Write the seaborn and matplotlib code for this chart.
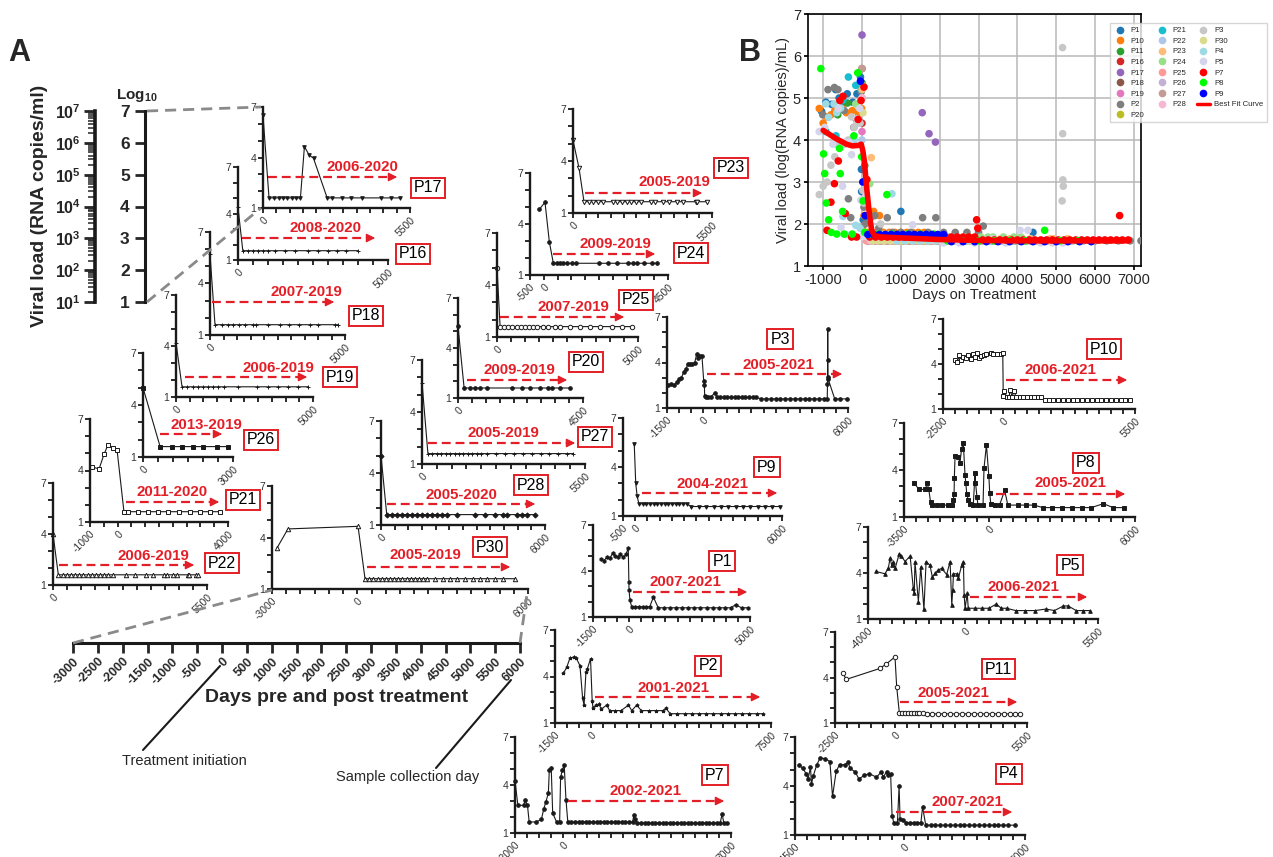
import numpy as np
import pandas as pd
import matplotlib
matplotlib.use("Agg")
import matplotlib.pyplot as plt
import seaborn as sns
from matplotlib.lines import Line2D
from matplotlib.patches import FancyArrowPatch
from matplotlib.ticker import FixedLocator, LogLocator, NullFormatter

sns.set_theme(style="white")
plt.rcParams['font.family'] = ['Liberation Sans', 'DejaVu Sans']
plt.rcParams['mathtext.fontset'] = 'custom'
plt.rcParams['mathtext.rm'] = 'Liberation Sans'
plt.rcParams['mathtext.bf'] = 'Liberation Sans:bold'
plt.rcParams['mathtext.it'] = 'Liberation Sans:italic'
plt.rcParams['axes.unicode_minus'] = False

# ---------------- data (days on treatment, log10 viral load) ----------------
P17_days = [0, 225, 400, 590, 750, 910, 1075, 1240, 1400, 1550, 1725, 1890, 2400, 2600, 2960, 3310, 3690, 4410, 4775, 5140]
P17_vl = [6.5, 1.6, 1.6, 1.6, 1.6, 1.6, 1.6, 1.6, 1.6, 4.65, 4.15, 3.95, 1.6, 1.6, 1.6, 1.6, 1.6, 1.6, 1.6, 1.6]
P16_days = [0, 160, 340, 500, 670, 840, 1000, 1230, 1570, 1900, 2340, 2650, 3000, 3300, 3600, 4000]
P16_vl = [4.4, 1.6, 1.6, 1.6, 1.6, 1.6, 1.6, 1.6, 1.6, 1.6, 1.6, 1.6, 1.6, 1.6, 1.6, 1.6]
P18_days = [0, 185, 440, 660, 850, 1070, 1300, 1590, 1700, 2150, 2590, 2930, 3300, 3700, 4000, 4630, 4740]
P18_vl = [5.7, 1.6, 1.6, 1.6, 1.6, 1.6, 1.6, 1.6, 1.6, 1.6, 1.6, 1.6, 1.6, 1.6, 1.6, 1.6, 1.6]
P19_days = [0, 220, 400, 620, 800, 990, 1170, 1350, 1530, 1750, 2260, 2960, 3360, 3720, 4090, 4450, 4820]
P19_vl = [4.2, 1.6, 1.6, 1.6, 1.6, 1.6, 1.6, 1.6, 1.6, 1.6, 1.6, 1.6, 1.6, 1.6, 1.6, 1.6, 1.6]
P26_days = [0, 570, 970, 1300, 1670, 2000, 2470, 2830]
P26_vl = [5.0, 1.6, 1.6, 1.6, 1.6, 1.6, 1.6, 1.6]
P21_days = [-930, -670, -490, -350, -160, -20, 230, 380, 740, 1100, 1460, 1830, 2220, 2620, 2990, 3350, 3710]
P21_vl = [4.2, 4.1, 4.95, 5.5, 5.3, 5.2, 1.6, 1.6, 1.6, 1.6, 1.6, 1.6, 1.6, 1.6, 1.6, 1.6, 1.6]
P22_days = [0, 190, 345, 490, 630, 790, 940, 1080, 1240, 1380, 1540, 1680, 1820, 1970, 2130, 2600, 2930, 3320, 3580, 3970, 4060, 4300, 4420, 4810, 4870, 5110, 5190]
P22_vl = [4.0, 1.6, 1.6, 1.6, 1.6, 1.6, 1.6, 1.6, 1.6, 1.6, 1.6, 1.6, 1.6, 1.6, 1.6, 1.6, 1.6, 1.6, 1.6, 1.6, 1.6, 1.6, 1.6, 1.6, 1.6, 1.6, 1.6]
P30_days = [-2820, -2440, 25, 270, 420, 560, 720, 850, 1010, 1150, 1300, 1440, 1580, 1730, 1890, 2020, 2180, 2320, 2460, 2730, 3000, 3260, 3510, 3780, 4060, 4310, 4570, 4840, 5130, 5540]
P30_vl = [3.4, 4.5, 4.65, 1.6, 1.6, 1.6, 1.6, 1.6, 1.6, 1.6, 1.6, 1.6, 1.6, 1.6, 1.6, 1.6, 1.6, 1.6, 1.6, 1.6, 1.6, 1.6, 1.6, 1.6, 1.6, 1.6, 1.6, 1.6, 1.6, 1.6]
P28_days = [0, 210, 390, 570, 760, 940, 1120, 1310, 1490, 1670, 1850, 2040, 2220, 2400, 2770, 3440, 3800, 4170, 4480, 4600, 4970, 5150, 5330, 5640]
P28_vl = [5.0, 1.6, 1.6, 1.6, 1.6, 1.6, 1.6, 1.6, 1.6, 1.6, 1.6, 1.6, 1.6, 1.6, 1.6, 1.6, 1.6, 1.6, 1.6, 1.6, 1.6, 1.6, 1.6, 1.6]
P27_days = [0, 200, 350, 500, 650, 800, 950, 1100, 1250, 1400, 1550, 1700, 1850, 2000, 2200, 2500, 2800, 3100, 3400, 3700, 4000, 4300, 4600, 4900, 5100]
P27_vl = [5.7, 1.6, 1.6, 1.6, 1.6, 1.6, 1.6, 1.6, 1.6, 1.6, 1.6, 1.6, 1.6, 1.6, 1.6, 1.6, 1.6, 1.6, 1.6, 1.6, 1.6, 1.6, 1.6, 1.6, 1.6]
P20_days = [0, 220, 430, 610, 790, 1030, 1930, 2290, 2590, 2950, 3250, 3370, 3670, 4030]
P20_vl = [5.3, 1.6, 1.6, 1.6, 1.6, 1.6, 1.6, 1.6, 1.6, 1.6, 1.6, 1.6, 1.6, 1.6]
P25_days = [0, 110, 250, 400, 540, 700, 840, 990, 1130, 1290, 1430, 1640, 1820, 2060, 2230, 2590, 2940, 3300, 3650, 4080, 4430, 4790]
P25_vl = [5.0, 1.6, 1.6, 1.6, 1.6, 1.6, 1.6, 1.6, 1.6, 1.6, 1.6, 1.6, 1.6, 1.6, 1.6, 1.6, 1.6, 1.6, 1.6, 1.6, 1.6, 1.6]
P24_days = [-163, 43, 200, 345, 467, 587, 707, 830, 1010, 1167, 2010, 2315, 2640, 3060, 3240, 3370, 3640, 3910, 4090]
P24_vl = [4.86, 5.28, 2.96, 1.69, 1.69, 1.69, 1.69, 1.69, 1.69, 1.69, 1.69, 1.69, 1.69, 1.69, 1.69, 1.69, 1.69, 1.69, 1.69]
P23_days = [0, 240, 435, 633, 803, 1000, 1200, 1570, 1750, 1930, 2120, 2300, 2490, 2690, 3070, 3240, 3570, 3810, 4130, 4340, 4850, 4920, 5290]
P23_vl = [5.2, 3.58, 1.65, 1.65, 1.65, 1.65, 1.65, 1.65, 1.65, 1.65, 1.65, 1.65, 1.65, 1.65, 1.65, 1.65, 1.65, 1.65, 1.65, 1.65, 1.65, 1.65, 1.65]
P3_days = [-1450, -1330, -1200, -1100, -1000, -900, -800, -700, -650, -550, -450, -350, -270, -200, -130,
           -50, 20, 50, 60, 120, 190, 330, 480, 560, 700, 850, 1000, 1150, 1300, 1450,
           1600, 1750, 1900, 2050, 2200, 2400, 2600, 2800, 3000, 3200, 3400, 3600, 3800, 4000, 4200,
           4400, 4600, 4800, 5000, 5140, 5150, 5160, 5165, 5170, 5180, 5450, 5650, 5950]
P3_vl = [2.5, 2.6, 2.5, 2.7, 2.9, 3.0, 3.4, 3.6, 3.9, 3.9, 3.9, 4.0, 4.55, 4.3, 4.4,
         4.4, 2.8, 2.5, 1.8, 1.7, 1.7, 1.75, 2.0, 1.75, 1.7, 1.7, 1.7, 1.7, 1.7, 1.7,
         1.7, 1.7, 1.7, 1.7, 1.7, 1.6, 1.6, 1.6, 1.6, 1.6, 1.6, 1.6, 1.6, 1.6, 1.6,
         1.6, 1.6, 1.6, 1.6, 1.6, 2.55, 6.2, 4.15, 3.05, 2.9, 1.6, 1.6, 1.6]
P10_days = [-2000, -1900, -1820, -1750, -1650, -1550, -1450, -1350, -1250, -1150, -1100, -1000, -900, -800, -700,
            -500, -400, -250, -100, -10, 10, 50, 150, 250, 300, 380, 450, 550, 700, 850,
            1000, 1150, 1300, 1450, 1600, 1750, 1900, 2100, 2300, 2500, 2700, 2900, 3100, 3300, 3500,
            3700, 3900, 4100, 4300, 4500, 4700, 4900, 5100, 5300]
P10_vl = [4.3, 4.15, 4.6, 4.25, 4.45, 4.4, 4.6, 4.35, 4.7, 4.5, 4.75, 4.4, 4.55, 4.6, 4.7,
          4.75, 4.65, 4.7, 4.65, 4.75, 1.9, 2.2, 1.8, 1.8, 2.3, 1.8, 2.2, 1.8, 1.8, 1.8,
          1.8, 1.8, 1.8, 1.8, 1.8, 1.6, 1.6, 1.6, 1.6, 1.6, 1.6, 1.6, 1.6, 1.6, 1.6,
          1.6, 1.6, 1.6, 1.6, 1.6, 1.6, 1.6, 1.6, 1.6]
P8_days = [-3090, -2890, -2620, -2550, -2480, -2410, -2350, -2150, -1940, -1670, -1510, -1470, -1440, -1430, -1400,
           -1260, -1200, -1130, -1060, -990, -960, -920, -860, -790, -650, -580, -560, -500, -460, -250,
           -210, -110, -10, 25, 70, 230, 430, 640, 770, 1170, 1500, 1850, 2200, 2600, 3000,
           3400, 3800, 4200, 4700, 5100, 5560]
P8_vl = [3.2, 2.76, 2.76, 3.15, 2.76, 1.97, 1.76, 1.76, 1.76, 1.76, 1.76, 2.1, 2.5, 3.46, 4.9,
         4.8, 4.45, 5.37, 5.7, 3.67, 3.2, 2.5, 2.1, 1.8, 1.76, 3.8, 3.2, 2.3, 1.76, 1.76,
         4.1, 5.6, 3.6, 2.55, 1.8, 1.76, 1.76, 2.7, 1.76, 1.76, 1.76, 1.76, 1.6, 1.6, 1.6,
         1.6, 1.6, 1.6, 1.85, 1.6, 1.6]
P5_days = [-3670, -3300, -3160, -3090, -3020, -2950, -2880, -2710, -2620, -2470, -2260, -2130, -2090, -2060, -1920,
           -1820, -1690, -1600, -1440, -1340, -1230, -1100, -960, -750, -610, -540, -500, -470, -330, -270,
           -130, -60, -30, 10, 100, 140, 400, 700, 1000, 1300, 1500, 1730, 2100, 2500, 2900,
           3350, 3700, 4070, 4270, 4600, 4900, 5170]
P5_vl = [4.1, 3.95, 4.3, 4.97, 4.5, 4.7, 4.3, 5.25, 5.1, 4.75, 5.1, 3.0, 2.7, 4.75, 2.13,
         4.4, 1.63, 4.75, 4.5, 3.72, 3.98, 4.2, 4.3, 3.9, 4.75, 1.92, 2.9, 3.95, 3.95, 3.65,
         4.5, 4.75, 2.57, 1.7, 2.67, 1.7, 1.7, 1.7, 1.7, 1.98, 1.7, 1.7, 1.55, 1.55, 1.55,
         1.65, 1.55, 1.85, 1.85, 1.55, 1.55, 1.55]
P11_days = [-2150, -2040, -625, -375, 0, 70, 180, 300, 420, 540, 660, 780, 900, 1020, 1150,
            1320, 1550, 1800, 2050, 2300, 2550, 2800, 3050, 3300, 3550, 3800, 4050, 4300, 4550, 4800, 5000, 5200]
P11_vl = [4.27, 3.87, 4.6, 4.88, 5.36, 3.39, 1.68, 1.68, 1.68, 1.68, 1.68, 1.68, 1.68, 1.68, 1.68,
          1.6, 1.6, 1.6, 1.6, 1.6, 1.6, 1.6, 1.6, 1.6, 1.6, 1.6, 1.6, 1.6, 1.6, 1.6, 1.6, 1.6]
P9_days = [-40, 20, 80, 150, 300, 450, 600, 750, 900, 1050, 1200, 1350, 1500, 1650, 1800,
           1950, 2100, 2300, 2600, 2900, 3200, 3500, 3800, 4100, 4400, 4700, 5000, 5300, 5600, 5900]
P9_vl = [5.4, 3.0, 2.2, 1.75, 1.75, 1.75, 1.75, 1.75, 1.75, 1.75, 1.75, 1.75, 1.75, 1.75, 1.75,
         1.75, 1.75, 1.58, 1.58, 1.58, 1.58, 1.58, 1.58, 1.58, 1.58, 1.58, 1.58, 1.58, 1.58, 1.58]
P1_days = [-1180, -1040, -930, -790, -680, -590, -480, -380, -240, -130, -40, -15, -10, 30, 100,
           250, 400, 550, 700, 850, 1000, 1200, 1450, 1700, 1950, 2200, 2450, 2700, 2950, 3200,
           3450, 3700, 3950, 4200, 4400, 4650, 4900]
P1_vl = [4.77, 4.68, 4.9, 4.85, 5.2, 5.0, 4.9, 5.1, 4.9, 5.1, 5.5, 3.3, 2.77, 2.1, 1.67,
         1.67, 1.67, 1.67, 1.67, 1.67, 2.3, 1.6, 1.6, 1.6, 1.6, 1.6, 1.6, 1.6, 1.6, 1.6,
         1.6, 1.6, 1.6, 1.6, 1.8, 1.6, 1.6]
P2_days = [-1150, -1010, -875, -710, -620, -460, -350, -290, -210, -150, -20, 50, 80, 220, 330,
           430, 650, 780, 1000, 1250, 1560, 1700, 1900, 2100, 2400, 2700, 3000, 3120, 3300, 3600,
           3900, 4200, 4500, 4800, 5100, 5400, 5700, 6000, 6300, 6600, 6900, 7180]
P2_vl = [4.2, 4.6, 5.2, 5.25, 5.2, 4.7, 2.6, 2.15, 4.3, 4.5, 5.15, 2.4, 2.0, 2.15, 2.2,
         1.9, 2.15, 1.8, 1.8, 1.8, 2.15, 1.8, 2.15, 1.8, 1.8, 1.8, 1.8, 1.95, 1.6, 1.6,
         1.6, 1.6, 1.6, 1.6, 1.6, 1.6, 1.6, 1.6, 1.6, 1.6, 1.6, 1.6]
P7_days = [-2000, -1880, -1630, -1590, -1480, -1410, -1120, -900, -800, -710, -610, -570, -490, -430, -270,
           -140, -100, -25, 50, 125, 200, 350, 500, 650, 800, 950, 1100, 1250, 1400, 1550,
           1700, 1850, 2000, 2150, 2300, 2450, 2600, 2750, 2900, 2950, 2980, 3100, 3250, 3400, 3550,
           3700, 3850, 4000, 4150, 4300, 4450, 4600, 4750, 4900, 5050, 5200, 5350, 5500, 5650, 5800,
           5950, 6100, 6250, 6400, 6550, 6630, 6700, 6850]
P7_vl = [4.27, 2.73, 2.73, 3.06, 2.73, 1.69, 1.69, 1.85, 2.52, 2.96, 3.5, 4.94, 5.04, 2.25, 1.69,
         1.69, 4.49, 4.94, 5.26, 3.06, 1.69, 1.69, 1.69, 1.69, 1.69, 1.69, 1.69, 1.69, 1.69, 1.69,
         1.69, 1.69, 1.69, 1.69, 1.69, 1.69, 1.69, 1.69, 1.69, 2.1, 1.9, 1.62, 1.62, 1.62, 1.62,
         1.62, 1.62, 1.62, 1.62, 1.62, 1.62, 1.62, 1.62, 1.62, 1.62, 1.62, 1.62, 1.62, 1.62, 1.62,
         1.62, 1.62, 1.62, 1.62, 1.62, 2.2, 1.62, 1.62]
P4_days = [-4330, -4180, -4040, -3960, -3860, -3820, -3750, -3600, -3460, -3250, -3060, -2950, -2800, -2660, -2440,
           -2300, -2230, -2010, -1860, -1640, -1430, -1140, -930, -860, -720, -650, -550, -490, -420, -270,
           -200, -160, -50, 90, 250, 400, 550, 700, 770, 900, 1100, 1300, 1500, 1700, 1900,
           2100, 2300, 2500, 2700, 2900, 3100, 3300, 3500, 3700, 3900, 4100, 4300, 4600]
P4_vl = [5.3, 5.08, 4.76, 4.43, 5.15, 4.12, 4.6, 5.3, 5.73, 5.67, 5.5, 3.36, 4.9, 5.3, 5.3,
         5.45, 5.08, 4.86, 4.43, 4.65, 4.76, 4.54, 4.86, 4.54, 4.86, 4.65, 4.76, 2.18, 1.75, 1.75,
         4.0, 1.97, 1.9, 1.75, 1.75, 1.75, 1.75, 1.75, 2.72, 1.6, 1.6, 1.6, 1.6, 1.6, 1.6,
         1.6, 1.6, 1.6, 1.6, 1.6, 1.6, 1.6, 1.6, 1.6, 1.6, 1.6, 1.6, 1.6]

BEST_FIT_days = [-1000, -700, -400, -250, -100, -20, 20, 60, 110, 160, 200, 250, 320, 500, 1000, 2000, 3000, 4000, 5000, 6000, 6800]
BEST_FIT_vl = [4.23, 4.05, 3.9, 3.86, 3.87, 3.9, 3.75, 3.5, 2.95, 2.5, 2.15, 1.85, 1.72, 1.69, 1.67, 1.63, 1.61, 1.6, 1.6, 1.6, 1.6]

DATE_RANGES = {'P17': '2006-2020', 'P16': '2008-2020', 'P18': '2007-2019', 'P19': '2006-2019', 'P26': '2013-2019',
               'P21': '2011-2020', 'P22': '2006-2019', 'P30': '2005-2019', 'P28': '2005-2020', 'P27': '2005-2019',
               'P20': '2009-2019', 'P25': '2007-2019', 'P24': '2009-2019', 'P23': '2005-2019', 'P3': '2005-2021',
               'P9': '2004-2021', 'P1': '2007-2021', 'P2': '2001-2021', 'P7': '2002-2021', 'P4': '2007-2021',
               'P11': '2005-2021', 'P5': '2006-2021', 'P8': '2005-2021', 'P10': '2006-2021'}

SERIES = {
    'P1': (P1_days, P1_vl), 'P2': (P2_days, P2_vl), 'P3': (P3_days, P3_vl), 'P4': (P4_days, P4_vl),
    'P5': (P5_days, P5_vl), 'P7': (P7_days, P7_vl), 'P8': (P8_days, P8_vl), 'P9': (P9_days, P9_vl),
    'P10': (P10_days, P10_vl), 'P11': (P11_days, P11_vl), 'P16': (P16_days, P16_vl), 'P17': (P17_days, P17_vl),
    'P18': (P18_days, P18_vl), 'P19': (P19_days, P19_vl), 'P20': (P20_days, P20_vl), 'P21': (P21_days, P21_vl),
    'P22': (P22_days, P22_vl), 'P23': (P23_days, P23_vl), 'P24': (P24_days, P24_vl), 'P25': (P25_days, P25_vl),
    'P26': (P26_days, P26_vl), 'P27': (P27_days, P27_vl), 'P28': (P28_days, P28_vl), 'P30': (P30_days, P30_vl),
}
for k, (d, v) in SERIES.items():
    assert len(d) == len(v), k

# ---------------- layout (pixel positions in the 1273x857 canvas) ----------------
# axes box (left, top, right, bottom), x-range, arrow (x0, x1, y), date text centre, label box centre
LAYOUT = {
    'P17': ((263, 107, 410, 208), (0, 5500), (268, 400, 177), (362, 167), (428, 188)),
    'P16': ((238, 167, 388, 260), (0, 5000), (242, 378, 238), (325, 228), (413, 254)),
    'P18': ((210, 232, 345, 335), (0, 5000), (212, 337, 302), (306, 292), (366, 316)),
    'P19': ((176, 295, 313, 397), (0, 5000), (185, 310, 377), (278, 368), (340, 377)),
    'P26': ((143, 353, 233, 457), (0, 3000), (160, 225, 434), (206, 425), (261, 440)),
    'P21': ((90, 419, 228, 522), (-1000, 4000), (126, 222, 502), (172, 492), (243, 500)),
    'P22': ((53, 483, 207, 585), (0, 5500), (59, 197, 565), (153, 556), (222, 563)),
    'P30': ((272, 486, 528, 589), (-3000, 6000), (367, 513, 567), (425, 555), (490, 547)),
    'P28': ((381, 421, 545, 525), (0, 6000), (387, 538, 504), (461, 495), (531, 485)),
    'P27': ((422, 360, 585, 464), (0, 5500), (428, 578, 443), (503, 433), (595, 437)),
    'P20': ((458, 298, 583, 398), (0, 4500), (467, 570, 380), (519, 370), (586, 362)),
    'P25': ((497, 233, 638, 337), (0, 5000), (500, 627, 317), (573, 307), (636, 300)),
    'P24': ((530, 173, 668, 275), (-500, 4500), (553, 658, 254), (615, 244), (691, 253)),
    'P23': ((573, 109, 712, 213), (0, 5500), (585, 705, 193), (674, 182), (731, 168)),
    'P3': ((667, 317, 848, 408), (-1500, 6000), (707, 845, 374), (778, 365), (780, 339)),
    'P9': ((623, 418, 782, 516), (-500, 6000), (642, 780, 493), (712, 484), (767, 467)),
    'P1': ((593, 525, 750, 617), (-1500, 5000), (633, 750, 592), (685, 582), (722, 561)),
    'P2': ((555, 630, 771, 723), (-1500, 7500), (595, 763, 697), (673, 688), (708, 666)),
    'P7': ((515, 737, 731, 833), (-2000, 7000), (568, 727, 801), (646, 791), (715, 775)),
    'P4': ((795, 737, 1025, 835), (-4500, 5000), (896, 1015, 812), (967, 802), (1009, 774)),
    'P11': ((835, 632, 1027, 723), (-2500, 5500), (900, 1020, 702), (953, 693), (998, 669)),
    'P5': ((868, 527, 1098, 619), (-4000, 5500), (970, 1090, 597), (1023, 587), (1070, 565)),
    'P8': ((904, 423, 1135, 517), (-3500, 6000), (996, 1128, 494), (1070, 483), (1086, 463)),
    'P10': ((943, 319, 1135, 409), (-2500, 5500), (1006, 1130, 380), (1060, 370), (1104, 349)),
}
MARKERS = {'P17': ('v', True), 'P16': ('+', True), 'P18': ('+', True), 'P19': ('+', True), 'P26': ('s', True),
           'P21': ('s', False), 'P22': ('^', False), 'P30': ('^', False), 'P28': ('D', True), 'P27': ('+', True),
           'P20': ('o', True), 'P25': ('o', False), 'P24': ('o', True), 'P23': ('v', False), 'P3': ('o', True),
           'P9': ('v', True), 'P1': ('h', True), 'P2': ('*', True), 'P11': ('o', False), 'P7': ('o', True),
           'P4': ('o', True), 'P5': ('^', True), 'P8': ('s', True), 'P10': ('s', False)}

COLORS = {'P1': '#1f77b4', 'P10': '#ff7f0e', 'P11': '#2ca02c', 'P16': '#d62728', 'P17': '#9467bd',
          'P18': '#8c564b', 'P19': '#e377c2', 'P2': '#7f7f7f', 'P20': '#bcbd22', 'P21': '#17becf',
          'P22': '#aec7e8', 'P23': '#ffbb78', 'P24': '#98df8a', 'P25': '#ff9896', 'P26': '#c5b0d5',
          'P27': '#c49c94', 'P28': '#f7b6d2', 'P3': '#c7c7c7', 'P30': '#dbdb8d', 'P4': '#9edae5',
          'P5': '#d4d4ec', 'P7': '#ff0000', 'P8': '#00ff00', 'P9': '#0000ff'}
ORDER = sorted(COLORS.keys())

RED = '#e41e26'
INK = '#1a1a1a'
W, H = 1273, 857
fig = plt.figure(figsize=(W / 100, H / 100), dpi=100)


def fx(x):
    return x / W


def fy(y):
    return 1 - y / H


def px_axes(x0, y0, x1, y1):
    ax = fig.add_axes([fx(x0), fy(y1), (x1 - x0) / W, (y1 - y0) / H])
    ax.set_facecolor('none')
    return ax


def add_line(x0, y0, x1, y1, **kw):
    fig.add_artist(Line2D([fx(x0), fx(x1)], [fy(y0), fy(y1)], transform=fig.transFigure, **kw))


def add_arrow(x0, x1, y):
    add_line(x0, y, x1 - 7, y, color=RED, lw=1.6, ls=(0, (4, 2.2)))
    fig.add_artist(FancyArrowPatch((fx(x1 - 9), fy(y)), (fx(x1), fy(y)), transform=fig.transFigure,
                                   arrowstyle='-|>', mutation_scale=13, color=RED, lw=1.0))


# ---------------- panel A mini plots ----------------
for name, (box, xr, arr, tpos, lpos) in LAYOUT.items():
    ax = px_axes(*box)
    days, vl = SERIES[name]
    mk, filled = MARKERS[name]
    ms = 2.6 if filled else 3.2
    sns.lineplot(x=days, y=vl, ax=ax, color=INK, lw=0.8, marker=mk, markersize=ms,
                 markerfacecolor=INK if filled else 'white', markeredgecolor=INK, markeredgewidth=0.7,
                 estimator=None, sort=False, clip_on=False)
    ax.set_xlim(*xr)
    ax.set_ylim(1, 7)
    for s in ['top', 'right']:
        ax.spines[s].set_visible(False)
    for s in ['left', 'bottom']:
        ax.spines[s].set_linewidth(1.7)
        ax.spines[s].set_color(INK)
    ax.set_yticks(range(1, 8))
    ax.set_yticklabels(['1', '', '', '4', '', '', '7'])
    xt = list(np.arange(xr[0], xr[1] + 1, 500))
    ax.set_xticks(xt)
    ax.set_xticklabels([str(int(t)) if t in (xr[0], 0, xr[1]) else '' for t in xt],
                       rotation=45, ha='right', rotation_mode='anchor')
    ax.tick_params(axis='both', direction='out', length=3.5, width=1.3, color=INK,
                   labelsize=7.5, labelcolor='#333333', pad=1.5, left=True, bottom=True)
    ax.set_xlabel('')
    ax.set_ylabel('')
    add_arrow(arr[0], arr[1], arr[2])
    fig.text(fx(tpos[0]), fy(tpos[1]), DATE_RANGES[name], color=RED, fontsize=10.8, fontweight='bold',
             ha='center', va='center')
    fig.text(fx(lpos[0]), fy(lpos[1]), name, color='black', fontsize=11.5, ha='center', va='center',
             bbox=dict(boxstyle='square,pad=0.18', fc='white', ec=RED, lw=1.4))

# ---------------- panel A reference axes ----------------
axv = px_axes(95, 111, 96, 302)
axv.set_yscale('log')
axv.set_ylim(10, 1e7)
axv.set_xticks([])
for s in ['top', 'right', 'bottom']:
    axv.spines[s].set_visible(False)
axv.spines['left'].set_linewidth(2.6)
axv.spines['left'].set_color(INK)
axv.yaxis.set_major_locator(FixedLocator([10.0 ** k for k in range(1, 8)]))
axv.set_yticklabels([r'$\mathbf{10^{%d}}$' % k for k in range(1, 8)])
axv.yaxis.set_minor_locator(LogLocator(base=10, subs=np.arange(2, 10), numticks=20))
axv.yaxis.set_minor_formatter(NullFormatter())
axv.tick_params(axis='y', which='major', direction='out', length=8, width=2, labelsize=11.5, pad=2, left=True)
axv.tick_params(axis='y', which='minor', direction='out', length=5, width=1.1, left=True)

axl = px_axes(145, 111, 146, 302)
axl.set_ylim(1, 7)
axl.set_xticks([])
for s in ['top', 'right', 'bottom']:
    axl.spines[s].set_visible(False)
axl.spines['left'].set_linewidth(2.2)
axl.spines['left'].set_color(INK)
axl.set_yticks(range(1, 8))
axl.set_yticklabels([str(k) for k in range(1, 8)], fontweight='bold')
axl.tick_params(axis='y', direction='out', length=7, width=2, labelsize=12.5, pad=4, left=True)
fig.text(fx(137), fy(95), r'$\mathbf{Log_{10}}$', fontsize=11, ha='center', va='center')
fig.text(fx(40), fy(206), 'Viral load (RNA copies/ml)', rotation=90, fontsize=14, fontweight='bold',
         ha='center', va='center')

axd = px_axes(73, 630, 520, 643)
axd.set_xlim(-3000, 6000)
axd.set_yticks([])
for s in ['top', 'right', 'left']:
    axd.spines[s].set_visible(False)
axd.spines['bottom'].set_linewidth(2.2)
axd.spines['bottom'].set_color(INK)
dt = list(np.arange(-3000, 6001, 500))
axd.set_xticks(dt)
axd.set_xticklabels([str(int(t)) for t in dt], rotation=45, ha='right', rotation_mode='anchor', fontweight='bold')
axd.tick_params(axis='x', direction='out', length=7, width=2, labelsize=9, pad=2, bottom=True)
fig.text(fx(337), fy(697), 'Days pre and post treatment', fontsize=14, fontweight='bold', ha='center', va='center')

# dashed zoom connectors
dash_kw = dict(color='#8a8a8a', lw=2, ls=(0, (4, 2.5)))
add_line(147, 111, 261, 107, **dash_kw)
add_line(147, 302, 261, 208, **dash_kw)
add_line(73, 643, 272, 590, **dash_kw)
add_line(520, 643, 527, 594, **dash_kw)

# callouts
add_line(220, 666, 143, 750, color=INK, lw=1.5)
fig.text(fx(184), fy(761), 'Treatment initiation', fontsize=10.5, ha='center', va='center')
add_line(511, 680, 436, 768, color=INK, lw=1.5)
fig.text(fx(408), fy(777), 'Sample collection day', fontsize=10.5, ha='center', va='center')

fig.text(fx(19), fy(53), 'A', fontsize=22, fontweight='bold', ha='center', va='center')
fig.text(fx(750), fy(53), 'B', fontsize=22, fontweight='bold', ha='center', va='center')

# ---------------- panel B ----------------
rows = []
for name in ORDER:
    d, v = SERIES[name]
    for di, vi in zip(d, v):
        if di >= -1100:
            rows.append((name, di, vi))
dfB = pd.DataFrame(rows, columns=['patient', 'day', 'vl'])

axB = px_axes(808, 14, 1141, 266)
axB.set_facecolor('white')
sns.scatterplot(data=dfB, x='day', y='vl', hue='patient', hue_order=ORDER, palette=COLORS,
                s=30, linewidth=0, legend=False, ax=axB, zorder=3)
sns.lineplot(x=BEST_FIT_days, y=BEST_FIT_vl, ax=axB, color='#ff0000', lw=4, estimator=None, sort=False, zorder=4)
axB.set_xlim(-1390, 7180)
axB.set_ylim(1, 7)
axB.set_xticks(range(-1000, 7001, 1000))
axB.set_yticks(range(1, 8))
axB.grid(True, color='#b8b8b8', lw=1.1, zorder=0)
axB.set_axisbelow(True)
for s in axB.spines.values():
    s.set_color('black')
    s.set_linewidth(1.2)
axB.tick_params(axis='both', labelsize=10.5, length=3, color='black', left=True, bottom=True, pad=2)
axB.set_xlabel('Days on Treatment', fontsize=10.5, labelpad=1)
axB.set_ylabel('Viral load (log(RNA copies)/mL)', fontsize=10.5, labelpad=2)

handles = [Line2D([], [], marker='o', ls='', color=COLORS[n], markersize=4.5) for n in ORDER]
handles.append(Line2D([], [], color='#ff0000', lw=2.5))
labels = ORDER + ['Best Fit Curve']
leg = axB.legend(handles, labels, ncol=3, loc='upper left', bbox_to_anchor=(0.895, 0.978),
                 fontsize=5.6, frameon=True, handlelength=1.6, handletextpad=0.6, columnspacing=1.4,
                 labelspacing=0.4, borderpad=0.45, fancybox=False)
leg.get_frame().set_edgecolor('#cccccc')
leg.get_frame().set_linewidth(1.0)

fig.savefig('out.png', dpi=100)
